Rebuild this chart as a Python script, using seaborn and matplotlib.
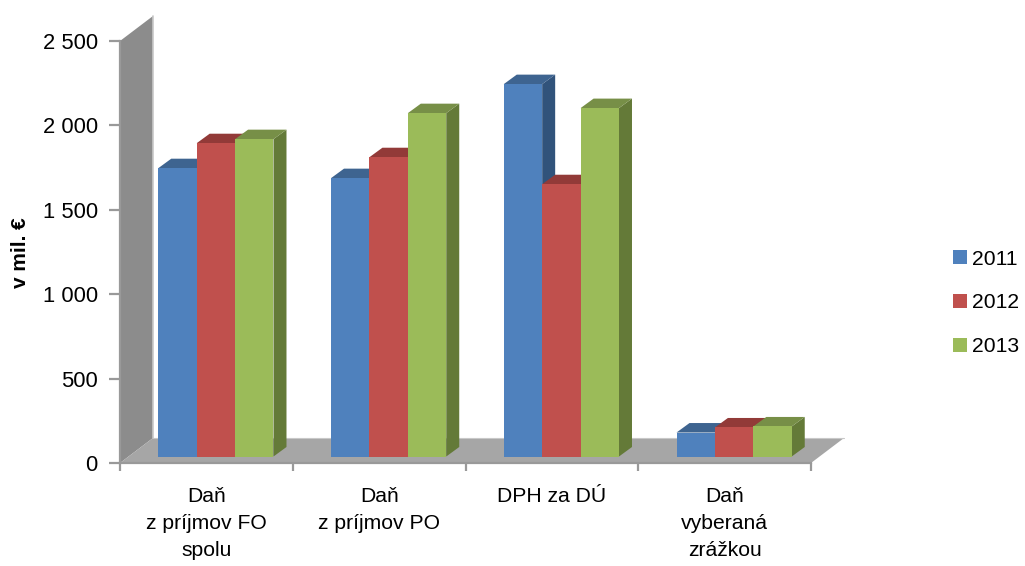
#!/usr/bin/env python3
# 3D-look clustered columns: seaborn draws the fronts, sides/tops come from the bar patches
import matplotlib
matplotlib.use("Agg")
import matplotlib.pyplot as plt
from matplotlib.colors import to_hex
from matplotlib.patches import Polygon
from matplotlib.ticker import FuncFormatter
import pandas as pd
import seaborn as sns

categories = ["Daň\nz príjmov FO\nspolu", "Daň\nz príjmov PO", "DPH za DÚ", "Daň\nvyberaná\nzrážkou"]
years = ["2011", "2012", "2013"]
values_2011 = [1708, 1649, 2206, 142]
values_2012 = [1856, 1773, 1613, 172]
values_2013 = [1880, 2034, 2064, 178]
y_ticks = [0, 500, 1000, 1500, 2000, 2500]

BLUE = "#4f81bd"
RED = "#c0504d"
GREEN = "#9bbb59"
BLUE_SIDE, BLUE_TOP = "#31537B", "#3E6490"
RED_SIDE, RED_TOP = "#7C3230", "#923A38"
GREEN_SIDE, GREEN_TOP = "#647A38", "#778F47"
WALL = "#8C8C8C"
FLOOR = "#A6A6A6"
AXIS = "#999999"

W, H = 1025, 566
LEFT, RIGHT, TOP, BOTTOM = 120, 811, 41, 463   # front axis box in pixels
SHIFT_X, SHIFT_Y = 9.5, 6.5                    # bars stand a bit behind the front edge
DEPTH_X, DEPTH_Y = 13, 9.5                     # bar depth
WALL_X, WALL_Y = 33, 25                        # wall / floor depth

sns.set_theme(style="white", rc={"text.color": "black", "axes.labelcolor": "black",
                                 "xtick.color": "black", "ytick.color": "black"})
plt.rcParams["font.family"] = ["Liberation Sans", "DejaVu Sans"]

df = pd.DataFrame({
    "category": categories * 3,
    "year": [y for y in years for _ in categories],
    "value": values_2011 + values_2012 + values_2013,
})

fig = plt.figure(figsize=(W / 100, H / 100), dpi=100)


def box(x0, x1, y_top, y_bot):
    return [x0 / W, 1 - y_bot / H, (x1 - x0) / W, (y_bot - y_top) / H]


# front axes: ticks, labels, wall and floor
ax = fig.add_axes(box(LEFT, RIGHT, TOP, BOTTOM))
ax.set_xlim(0, 4)
ax.set_ylim(0, 2500)
ax.patch.set_alpha(0)
sx = 4 / (RIGHT - LEFT)
sy = 2500 / (BOTTOM - TOP)

wall = [(0, 0), (0, 2500), (WALL_X * sx, 2500 + WALL_Y * sy), (WALL_X * sx, WALL_Y * sy)]
floor = [(0, 0), (WALL_X * sx, WALL_Y * sy), (4 + WALL_X * sx, WALL_Y * sy), (4, 0)]
ax.add_patch(Polygon(wall, closed=True, fc=WALL, ec="none", clip_on=False, zorder=1))
ax.add_patch(Polygon(floor, closed=True, fc=FLOOR, ec="none", clip_on=False, zorder=1))
ax.plot([WALL_X * sx] * 2, [WALL_Y * sy, 2500 + WALL_Y * sy], color="#C8C8C8", lw=1.2, clip_on=False, zorder=1)
ax.plot([WALL_X * sx, 4 + WALL_X * sx], [WALL_Y * sy] * 2, color="#C8C8C8", lw=0.8, clip_on=False, zorder=1)

for side in ["top", "right"]:
    ax.spines[side].set_visible(False)
for side in ["left", "bottom"]:
    ax.spines[side].set_color(AXIS)
    ax.spines[side].set_linewidth(1.6)
ax.set_yticks(y_ticks)
ax.yaxis.set_major_formatter(FuncFormatter(lambda v, _: f"{int(v):,}".replace(",", " ")))
ax.set_xticks([0, 1, 2, 3, 4])
ax.set_xticklabels([])
ax.set_xticks([0.5, 1.5, 2.5, 3.5], minor=True)
ax.set_xticklabels(categories, minor=True, fontsize=15.2, linespacing=1.56)
ax.tick_params(axis="x", which="major", length=6, width=1.6, color=AXIS, bottom=True)
ax.tick_params(axis="x", which="minor", length=0, pad=17, bottom=False)
ax.tick_params(axis="y", length=8, width=1.6, color=AXIS, labelsize=15.8, pad=8, left=True)
ax.set_ylabel("v mil. €", fontsize=15, fontweight="bold")
ax.yaxis.set_label_coords((30 - LEFT) / (RIGHT - LEFT), (BOTTOM - 253) / (BOTTOM - TOP))

# bars axes, same scale, shifted back
bars_ax = fig.add_axes(box(LEFT + SHIFT_X, RIGHT + SHIFT_X, TOP - SHIFT_Y, BOTTOM - SHIFT_Y))
bars_ax.patch.set_alpha(0)
sns.barplot(
    data=df, x="category", y="value", hue="year", order=categories, hue_order=years,
    palette=[BLUE, RED, GREEN], width=0.667, gap=0, saturation=1, linewidth=0, ax=bars_ax,
)
bars_ax.set_xlim(-0.5, 3.5)
bars_ax.set_ylim(0, 2500)
bars_ax.axis("off")

handles, labels = bars_ax.get_legend_handles_labels()
bars_ax.get_legend().remove()

sides = {BLUE: (BLUE_SIDE, BLUE_TOP), RED: (RED_SIDE, RED_TOP), GREEN: (GREEN_SIDE, GREEN_TOP)}
dx = DEPTH_X * sx
dy = DEPTH_Y * sy
patches = sorted([p for p in bars_ax.patches if p.get_height() > 0], key=lambda p: p.get_x())
for i, p in enumerate(patches):
    x0, x1, h = p.get_x(), p.get_x() + p.get_width(), p.get_height()
    side_c, top_c = sides[to_hex(p.get_facecolor())]
    z = 3 + i * 3
    bars_ax.add_patch(Polygon([(x1, 0), (x1 + dx, dy), (x1 + dx, h + dy), (x1, h)], closed=True,
                              fc=side_c, ec="none", clip_on=False, zorder=z))
    bars_ax.add_patch(Polygon([(x0, h), (x0 + dx, h + dy), (x1 + dx, h + dy), (x1, h)], closed=True,
                              fc=top_c, ec="none", clip_on=False, zorder=z + 1))
    p.set_zorder(z + 2)

fig.legend(handles, labels, loc="center left", bbox_to_anchor=(953 / W, 1 - 303 / H), frameon=False,
           fontsize=15.2, handlelength=0.67, handleheight=0.67, handletextpad=0.24, labelspacing=1.18,
           borderpad=0, borderaxespad=0)

fig.savefig("out.png", dpi=100)
